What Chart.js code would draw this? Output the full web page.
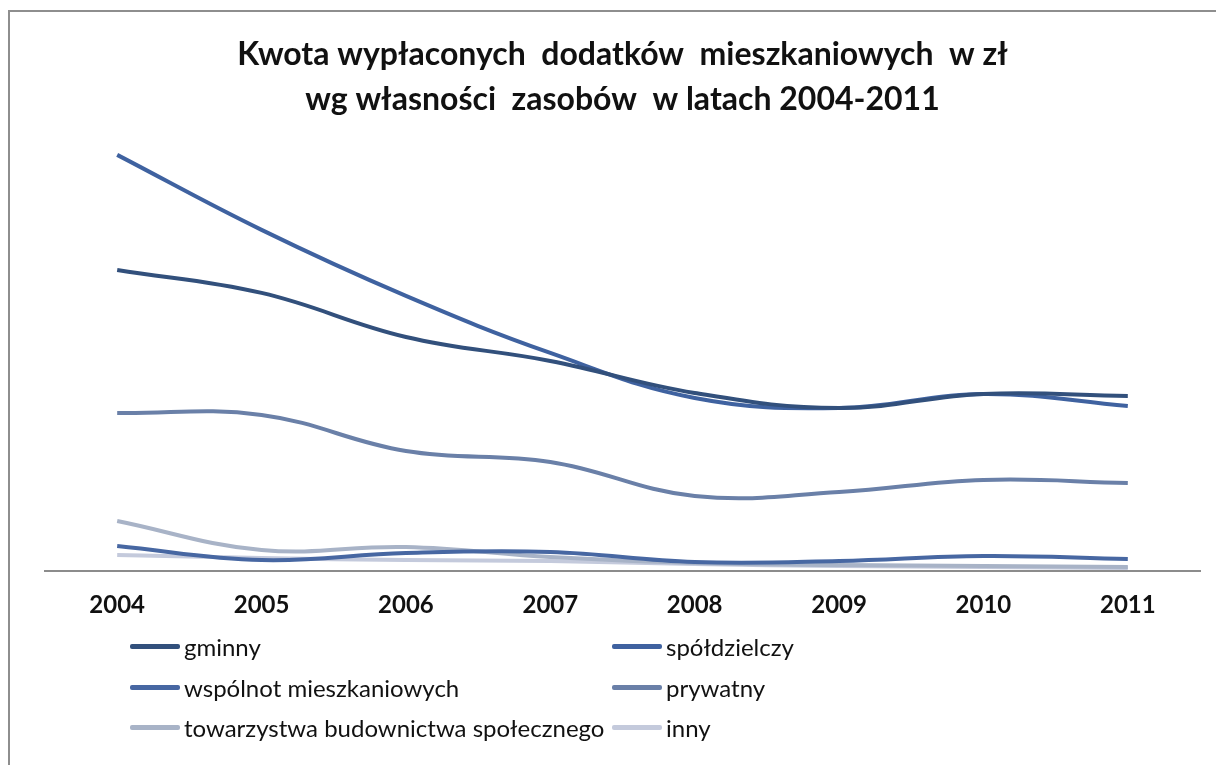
<!DOCTYPE html>
<html>
<head>
<meta charset="utf-8">
<script src="https://cdn.jsdelivr.net/npm/chart.js@4"></script>
<style>
  html, body { margin: 0; padding: 0; background: #fff; overflow: hidden; }
  #wrap { position: relative; width: 1216px; height: 765px; overflow: hidden; background: #fff; }
  #frame { position: absolute; left: 8px; top: 10px; width: 1300px; height: 900px;
           border-left: 2px solid #8e8e8e; border-top: 2px solid #8e8e8e; box-sizing: border-box; }
  canvas { position: absolute; left: 0; top: 0; }
  #legend { position: absolute; left: 0; top: 0; width: 1216px; height: 765px; pointer-events: none;
            font-family: Lato, "Open Sans", sans-serif; font-size: 24px; color: #111; }
  .item { position: absolute; display: flex; align-items: center; white-space: nowrap; }
  .sw { display: inline-block; width: 50px; height: 5px; border-radius: 2px; margin-right: 4px; }
</style>
</head>
<body>
<div id="wrap">
  <div id="frame"></div>
  <canvas id="c" width="1216" height="765"></canvas>
  <div id="legend"></div>
</div>
<script>
// Categories (years)
const years = ['2004', '2005', '2006', '2007', '2008', '2009', '2010', '2011'];

// Series names
const seriesNames = ['gminny', 'spółdzielczy', 'wspólnot mieszkaniowych', 'prywatny',
                     'towarzystwa budownictwa społecznego', 'inny'];

// Values (estimated, thousand zł)
const gminny        = [3010, 2780, 2340, 2100, 1780, 1630, 1770, 1750];
const spoldzielczy  = [4160, 3410, 2750, 2180, 1730, 1630, 1770, 1650];
const wspolnot      = [250, 110, 180, 190, 90, 100, 150, 120];
const prywatny      = [1580, 1560, 1200, 1090, 750, 790, 910, 880];
const tbs           = [500, 210, 240, 140, 80, 60, 50, 40];
const inny          = [160, 130, 110, 100, 70, 50, 40, 30];

const seriesValues = [gminny, spoldzielczy, wspolnot, prywatny, tbs, inny];
const seriesColors = ['#32507c', '#3f62a0', '#4767a2', '#6a80a8', '#a8b3c7', '#c4cadc'];

const titleLines = ['Kwota wypłaconych  dodatków  mieszkaniowych  w zł',
                    'wg własności  zasobów  w latach 2004-2011'];

const datasets = seriesNames.map((name, i) => ({
  label: name,
  data: seriesValues[i],
  borderColor: seriesColors[i],
  backgroundColor: seriesColors[i],
  borderWidth: 4,
  pointRadius: 0,
  pointHoverRadius: 0,
  tension: 0.4,
  fill: false,
  order: i
}));

const chart = new Chart(document.getElementById('c'), {
  type: 'line',
  data: { labels: years, datasets: datasets },
  options: {
    responsive: false,
    animation: false,
    layout: { padding: { left: 45, right: 16, top: 0, bottom: 0 } },
    plugins: {
      legend: { display: false },
      tooltip: { enabled: false },
      title: {
        display: true,
        text: titleLines,
        color: '#111',
        font: { family: 'Lato', size: 32, weight: 'bold', lineHeight: 1.42 },
        padding: { top: 32, bottom: 7 }
      }
    },
    scales: {
      x: {
        offset: true,
        grid: { display: false, drawTicks: false },
        border: { display: true, color: '#8c8c8c', width: 2 },
        ticks: {
          color: '#111',
          font: { family: 'Lato', size: 24, weight: 'bold' },
          padding: 20,
          maxRotation: 0
        },
        afterFit: (scale) => { scale.height = 194; }
      },
      y: {
        display: false,
        min: 0,
        max: 4410
      }
    }
  }
});

// HTML legend in a 2-column grid, built from the chart's own legend items
const items = chart.options.plugins.legend.labels.generateLabels(chart);
const legend = document.getElementById('legend');
const rowsY = [646, 687, 727];
const colX = [130, 612];
items.forEach((it, i) => {
  const row = Math.floor(i / 2), col = i % 2;
  const div = document.createElement('div');
  div.className = 'item';
  div.style.left = colX[col] + 'px';
  div.style.top = (rowsY[row] - 15) + 'px';
  div.style.height = '30px';
  const sw = document.createElement('span');
  sw.className = 'sw';
  sw.style.background = it.strokeStyle;
  const tx = document.createElement('span');
  tx.textContent = it.text;
  div.appendChild(sw);
  div.appendChild(tx);
  legend.appendChild(div);
});
</script>
</body>
</html>
